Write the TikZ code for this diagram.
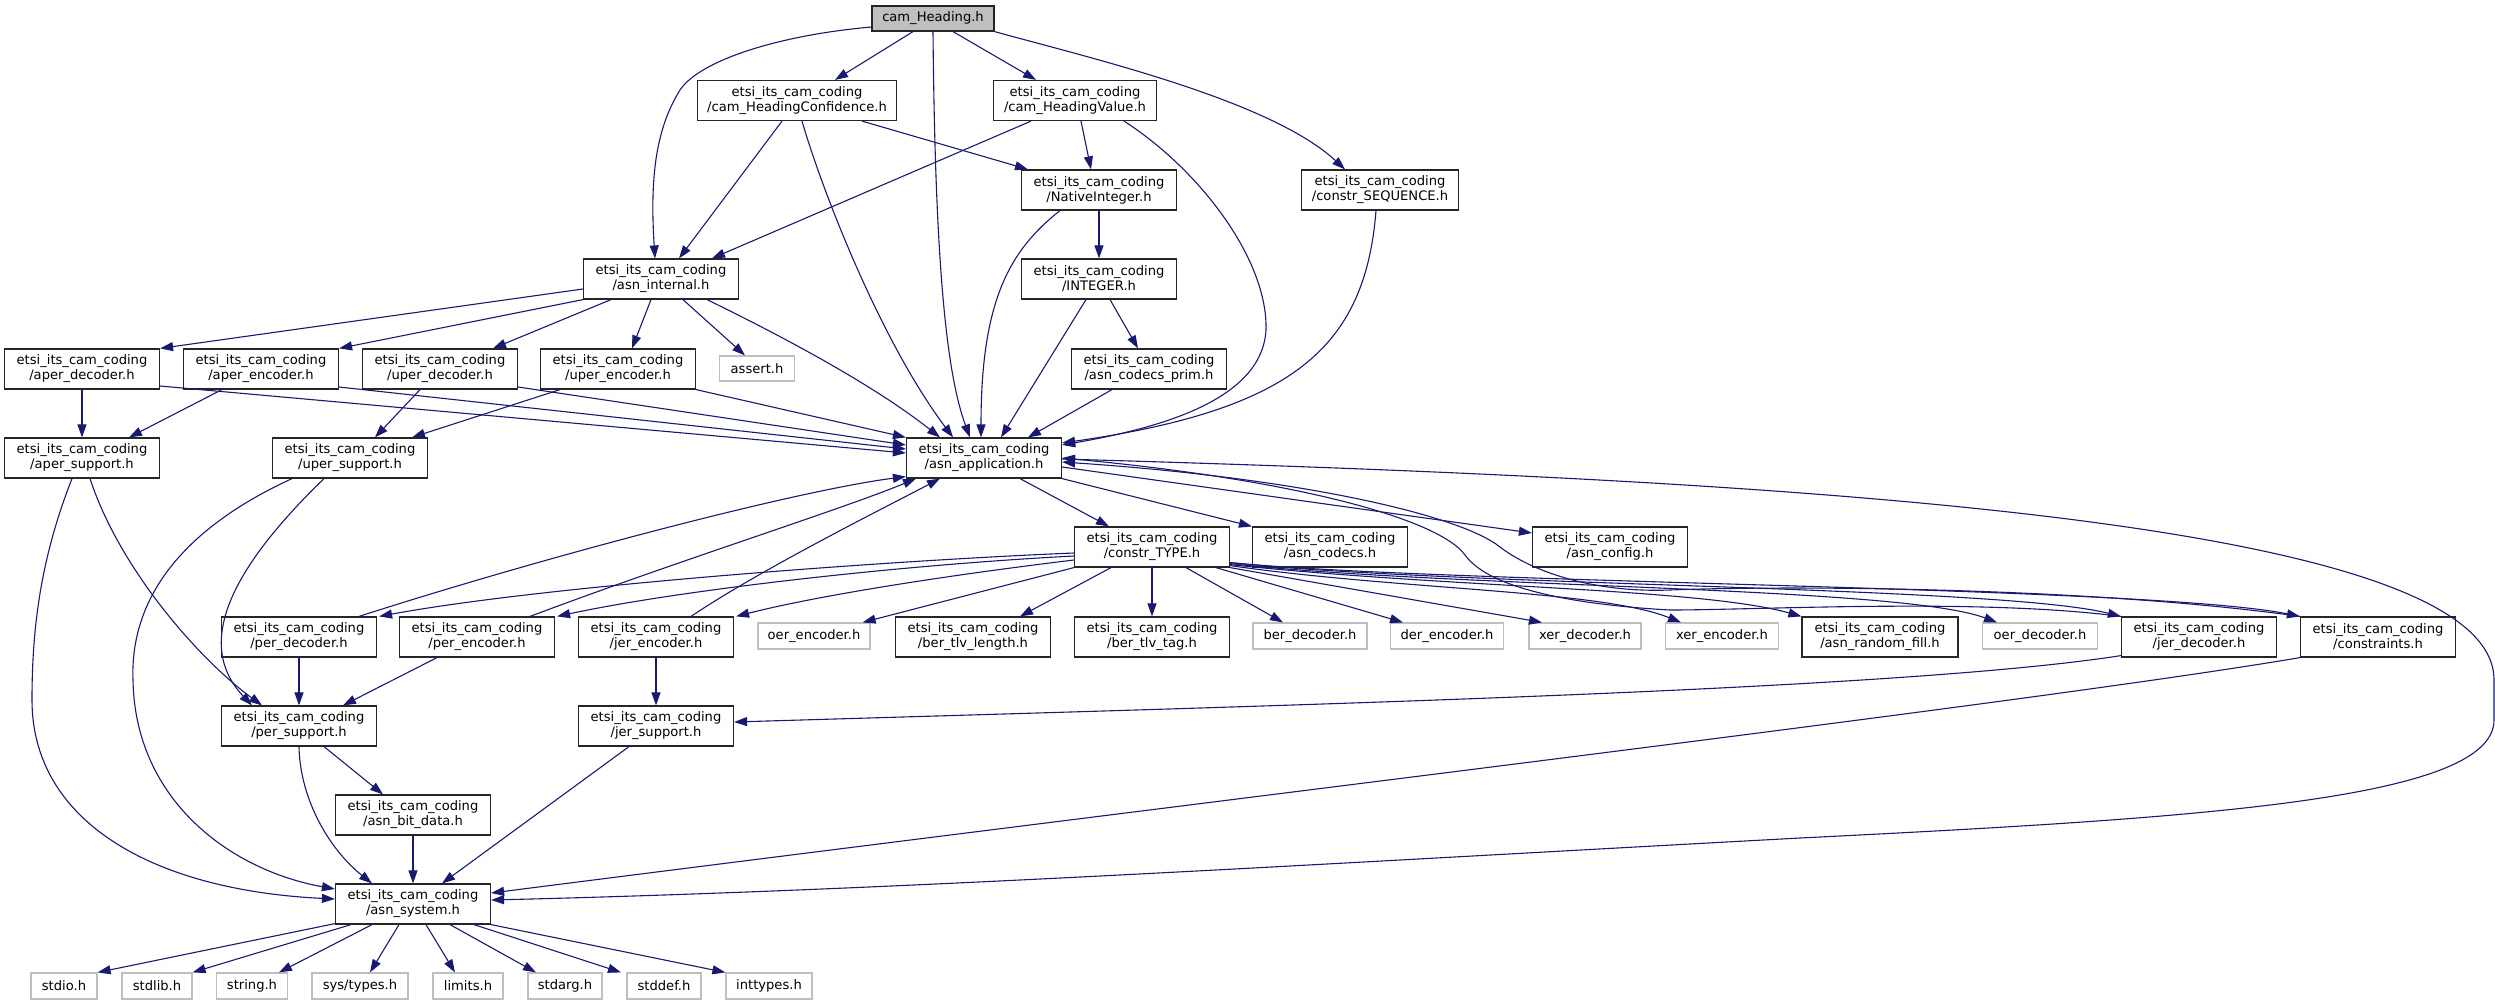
\documentclass[tikz,border=0pt]{standalone}
\usepackage{fontspec}
\setmainfont{DejaVu Sans}
\usetikzlibrary{arrows.meta}
\definecolor{edgeblue}{HTML}{191970}
\definecolor{greyfile}{HTML}{BFBFBF}

\begin{document}
\begin{tikzpicture}[x=1pt,y=-1pt]

      \tikzset{hfile/.style={draw=black!85, line width=1.2pt, fill=white, align=center, inner sep=0pt,
                 minimum width=155pt, minimum height=40pt, font=\fontsize{13.1}{15}\selectfont},
               sysfile/.style={hfile, draw=greyfile, minimum height=26pt},
               rootfile/.style={hfile, fill=greyfile, minimum height=25pt},
               incl/.style={draw=edgeblue, line width=1.1pt, -{Triangle[length=13pt,width=9pt]}}}
      \useasboundingbox (0,0) rectangle (2495,1005);
%% Files
      \node[rootfile, minimum width=122pt] (heading) at (933,18.5) {cam\_Heading.h};
      \node[hfile, minimum width=199pt] (conf) at (797,100.5) {etsi\_its\_cam\_coding\\/cam\_HeadingConfidence.h};
      \node[hfile, minimum width=163pt] (value) at (1075,100.5) {etsi\_its\_cam\_coding\\/cam\_HeadingValue.h};
      \node[hfile] (nint) at (1099,190) {etsi\_its\_cam\_coding\\/NativeInteger.h};
      \node[hfile, minimum width=157pt] (seq) at (1380,190) {etsi\_its\_cam\_coding\\/constr\_SEQUENCE.h};
      \node[hfile] (internal) at (661,279) {etsi\_its\_cam\_coding\\/asn\_internal.h};
      \node[hfile] (integer) at (1099,279) {etsi\_its\_cam\_coding\\/INTEGER.h};
      \node[hfile] (aperdec) at (82,369) {etsi\_its\_cam\_coding\\/aper\_decoder.h};
      \node[hfile] (aperenc) at (261,369) {etsi\_its\_cam\_coding\\/aper\_encoder.h};
      \node[hfile] (uperdec) at (440,369) {etsi\_its\_cam\_coding\\/uper\_decoder.h};
      \node[hfile] (uperenc) at (618,369) {etsi\_its\_cam\_coding\\/uper\_encoder.h};
      \node[sysfile, minimum width=75pt, minimum height=25pt] (assert) at (757,368.5) {assert.h};
      \node[hfile] (prim) at (1149,369) {etsi\_its\_cam\_coding\\/asn\_codecs\_prim.h};
      \node[hfile] (apersup) at (82,458) {etsi\_its\_cam\_coding\\/aper\_support.h};
      \node[hfile] (upersup) at (350,458) {etsi\_its\_cam\_coding\\/uper\_support.h};
      \node[hfile] (app) at (984,458) {etsi\_its\_cam\_coding\\/asn\_application.h};
      \node[hfile] (ctype) at (1152,547) {etsi\_its\_cam\_coding\\/constr\_TYPE.h};
      \node[hfile] (codecs) at (1330,547) {etsi\_its\_cam\_coding\\/asn\_codecs.h};
      \node[hfile] (config) at (1610,547) {etsi\_its\_cam\_coding\\/asn\_config.h};
      \node[hfile] (perdec) at (299,637) {etsi\_its\_cam\_coding\\/per\_decoder.h};
      \node[hfile] (perenc) at (477,637) {etsi\_its\_cam\_coding\\/per\_encoder.h};
      \node[hfile] (jerenc) at (656,637) {etsi\_its\_cam\_coding\\/jer\_encoder.h};
      \node[sysfile, minimum width=112pt] (oerenc) at (814,636) {oer\_encoder.h};
      \node[hfile] (tlvlen) at (973,637) {etsi\_its\_cam\_coding\\/ber\_tlv\_length.h};
      \node[hfile] (tlvtag) at (1152,637) {etsi\_its\_cam\_coding\\/ber\_tlv\_tag.h};
      \node[sysfile, minimum width=114pt] (berdec) at (1310,636) {ber\_decoder.h};
      \node[sysfile, minimum width=113pt] (derenc) at (1447,636) {der\_encoder.h};
      \node[sysfile, minimum width=112pt] (xerdec) at (1585,636) {xer\_decoder.h};
      \node[sysfile, minimum width=113pt] (xerenc) at (1722,636) {xer\_encoder.h};
      \node[hfile, minimum width=156pt] (rfill) at (1880,637) {etsi\_its\_cam\_coding\\/asn\_random\_fill.h};
      \node[sysfile, minimum width=115pt] (oerdec) at (2040,636) {oer\_decoder.h};
      \node[hfile] (jerdec) at (2199,637) {etsi\_its\_cam\_coding\\/jer\_decoder.h};
      \node[hfile] (constr) at (2378,637) {etsi\_its\_cam\_coding\\/constraints.h};
      \node[hfile] (persup) at (299,726) {etsi\_its\_cam\_coding\\/per\_support.h};
      \node[hfile] (jersup) at (656,726) {etsi\_its\_cam\_coding\\/jer\_support.h};
      \node[hfile] (bitdata) at (413,815) {etsi\_its\_cam\_coding\\/asn\_bit\_data.h};
      \node[hfile] (system) at (413,904) {etsi\_its\_cam\_coding\\/asn\_system.h};
      \node[sysfile, minimum width=66pt] (stdio) at (64,986) {stdio.h};
      \node[sysfile, minimum width=70pt] (stdlib) at (157,986) {stdlib.h};
      \node[sysfile, minimum width=71pt] (stringh) at (252,986) {string.h};
      \node[sysfile, minimum width=96pt] (systypes) at (360,986) {sys/types.h};
      \node[sysfile, minimum width=70pt] (limits) at (468,986) {limits.h};
      \node[sysfile, minimum width=74pt] (stdarg) at (565,986) {stdarg.h};
      \node[sysfile, minimum width=74pt] (stddef) at (664,986) {stddef.h};
      \node[sysfile, minimum width=86pt] (inttypes) at (769,986) {inttypes.h};
% Includes of cam_Heading.h
      \draw[incl] ([yshift=-8.5pt]heading.west) .. controls (780,35) and (700,60) .. (680,90) .. controls (655,130) and (650,180) .. ([xshift=-6pt]internal.north);
      \draw[incl] ([xshift=-20pt]heading.south) -- ([xshift=38pt]conf.north);
      \draw[incl] (heading.south) .. controls (935,250) and (945,370) .. ([xshift=-14pt]app.north);
      \draw[incl] ([xshift=20pt]heading.south) -- ([xshift=-39pt]value.north);
      \draw[incl] (heading.south east) .. controls (1090,58) and (1270,100) .. ([xshift=-35pt]seq.north);
% second level
      \draw[incl] ([xshift=-15pt]conf.south) -- ([xshift=18pt]internal.north);
      \draw[incl] ([xshift=5pt]conf.south) .. controls (822,190) and (880,340) .. ([xshift=-31pt]app.north);
      \draw[incl] ([xshift=65pt]conf.south) -- ([xshift=-71pt]nint.north);
      \draw[incl] ([xshift=-44pt]value.south) -- ([xshift=51pt]internal.north);
      \draw[incl] ([xshift=6pt]value.south) -- ([xshift=-8pt]nint.north);
      \draw[incl] ([xshift=49pt]value.south) .. controls (1200,170) and (1268,260) .. (1266,330) .. controls (1262,400) and (1160,428) .. ([yshift=13pt]app.east);
      \draw[incl] ([xshift=-39pt]nint.south) .. controls (1010,250) and (981,300) .. ([xshift=-3pt]app.north);
      \draw[incl] (nint) -- (integer);
      \draw[incl] ([xshift=-4pt]seq.south) .. controls (1365,350) and (1290,410) .. ([yshift=15pt]app.east);
      \draw[incl] ([xshift=-13pt]integer.south) -- ([xshift=17pt]app.north);
      \draw[incl] ([xshift=11pt]integer.south) -- ([xshift=-11pt]prim.north);
      \draw[incl] ([xshift=-37pt]prim.south) -- ([xshift=44pt]app.north);
% asn_internal.h
      \draw[incl] ([yshift=-10pt]internal.west) -- (aperdec.north east);
      \draw[incl] (internal.south west) -- (aperenc.north east);
      \draw[incl] ([xshift=-50pt]internal.south) -- ([xshift=53pt]uperdec.north);
      \draw[incl] ([xshift=-10pt]internal.south) -- ([xshift=14pt]uperenc.north);
      \draw[incl] ([xshift=22pt]internal.south) -- ([xshift=-12pt]assert.north);
      \draw[incl] ([xshift=46pt]internal.south) .. controls (800,345) and (880,390) .. ([xshift=-44pt]app.north);
% aper / uper
      \draw[incl] (aperdec) -- (apersup);
      \draw[incl] ([yshift=-17pt]aperdec.east) -- ([yshift=5pt]app.west);
      \draw[incl] ([xshift=-39pt]aperenc.south) -- ([xshift=47pt]apersup.north);
      \draw[incl] ([yshift=-18pt]aperenc.east) -- ([yshift=9pt]app.west);
      \draw[incl] ([xshift=-20pt]uperdec.south) -- ([xshift=25pt]upersup.north);
      \draw[incl] ([yshift=-18pt]uperdec.east) -- ([yshift=13pt]app.west);
      \draw[incl] ([xshift=-58pt]uperenc.south) -- ([xshift=62pt]upersup.north);
      \draw[incl] (uperenc.south east) -- (app.north west);
      \draw[incl] ([xshift=-10pt]apersup.south) .. controls (40,560) and (32,630) .. (32,700) .. controls (32,820) and (150,890) .. ([yshift=5pt]system.west);
      \draw[incl] ([xshift=8pt]apersup.south) .. controls (120,570) and (200,660) .. ([xshift=-37pt]persup.north);
      \draw[incl] ([xshift=-58pt]upersup.south) .. controls (180,530) and (130,600) .. (133,680) .. controls (135,800) and (230,870) .. ([yshift=15pt]system.west);
      \draw[incl] ([xshift=-26pt]upersup.south) .. controls (240,560) and (190,640) .. ([xshift=-47pt]persup.north);
% asn_application.h
      \draw[incl] ([xshift=36pt]app.south) -- ([xshift=-43pt]ctype.north);
      \draw[incl] (app.south east) -- (codecs.north west);
      \draw[incl] ([yshift=-9pt]app.east) -- ([yshift=14pt]config.west);
      \draw[incl] ([yshift=-1pt]app.east) .. controls (1800,480) and (2494,520) .. (2494,680) -- (2494,720) .. controls (2494,800) and (2200,818) .. (1800,838) .. controls (1300,865) and (900,890) .. ([yshift=4pt]system.east);
      \draw[incl] (jerdec.north west) .. controls (1980,598) and (1760,610) .. (1670,610) .. controls (1580,605) and (1490,590) .. (1465,555) .. controls (1440,520) and (1300,480) .. (app.east);
      \draw[incl] (constr.north west) .. controls (2100,588) and (1800,585) .. (1670,590) .. controls (1590,593) and (1530,570) .. (1500,547) .. controls (1460,515) and (1300,478) .. ([yshift=-4pt]app.east);
% constr_TYPE.h
      \draw[incl] ([yshift=-6pt]ctype.west) .. controls (900,560) and (550,585) .. ([xshift=2pt]perdec.north east);
      \draw[incl] ([yshift=-9pt]ctype.west) .. controls (900,565) and (680,590) .. ([xshift=2pt]perenc.north east);
      \draw[incl] ([yshift=-13pt]ctype.west) .. controls (950,575) and (820,595) .. ([xshift=2pt]jerenc.north east);
      \draw[incl] (ctype.south west) -- ([xshift=-8pt]oerenc.north east);
      \draw[incl] ([xshift=-41pt]ctype.south) -- ([xshift=47pt]tlvlen.north);
      \draw[incl] (ctype) -- (tlvtag);
      \draw[incl] ([xshift=34pt]ctype.south) -- ([xshift=-27pt]berdec.north);
      \draw[incl] ([xshift=64pt]ctype.south) -- ([xshift=-44pt]derenc.north);
      \draw[incl] (ctype.south east) -- ([xshift=-43pt]xerdec.north);
      \draw[incl] ([yshift=2pt]ctype.south east) .. controls (1400,590) and (1600,590) .. ([xshift=-41pt]xerenc.north);
      \draw[incl] ([yshift=3pt]ctype.south east) .. controls (1450,588) and (1700,588) .. (rfill.north west);
      \draw[incl] ([yshift=4pt]ctype.south east) .. controls (1450,588) and (1900,586) .. ([xshift=-43pt]oerdec.north);
      \draw[incl] ([yshift=5pt]ctype.south east) .. controls (1450,586) and (2000,586) .. (jerdec.north west);
      \draw[incl] ([yshift=5pt]ctype.south east) .. controls (1450,584) and (2150,586) .. (constr.north west);
% codecs back up
      \draw[incl] ([xshift=60pt]perdec.north) .. controls (550,555) and (800,490) .. ([yshift=2pt]app.south west);
      \draw[incl] ([xshift=53pt]perenc.north) .. controls (680,560) and (840,510) .. ([xshift=-68pt]app.south);
      \draw[incl] ([xshift=35pt]jerenc.north) .. controls (760,570) and (880,510) .. ([xshift=-44pt]app.south);
      \draw[incl] (perdec) -- (persup);
      \draw[incl] ([xshift=-40pt]perenc.south) -- ([xshift=44pt]persup.north);
      \draw[incl] (jerenc) -- (jersup);
      \draw[incl] ([yshift=2pt]jerdec.south west) .. controls (1900,690) and (1300,705) .. ([yshift=4pt]jersup.east);
      \draw[incl] (constr.south west) .. controls (2050,700) and (1300,790) .. ([yshift=11pt]system.east);
% supports
      \draw[incl] (persup.south) .. controls (300,800) and (330,850) .. ([xshift=-41pt]system.north);
      \draw[incl] ([xshift=25pt]persup.south) -- ([xshift=-30pt]bitdata.north);
      \draw[incl] ([xshift=-27pt]jersup.south) -- ([xshift=29pt]system.north);
      \draw[incl] (bitdata) -- (system);
% asn_system.h
      \draw[incl] ([yshift=1pt]system.south west) -- (stdio.north east);
      \draw[incl] ([xshift=-62pt]system.south) -- (stdlib.north east);
      \draw[incl] ([xshift=-41pt]system.south) -- ([xshift=27pt]stringh.north);
      \draw[incl] ([xshift=-14pt]system.south) -- ([xshift=10pt]systypes.north);
      \draw[incl] ([xshift=13pt]system.south) -- ([xshift=-13pt]limits.north);
      \draw[incl] ([xshift=37pt]system.south) -- ([xshift=-29pt]stdarg.north);
      \draw[incl] ([xshift=61pt]system.south) -- ([xshift=-43pt]stddef.north);
      \draw[incl] (system.south east) -- (inttypes.north west);

\end{tikzpicture}
\end{document}
